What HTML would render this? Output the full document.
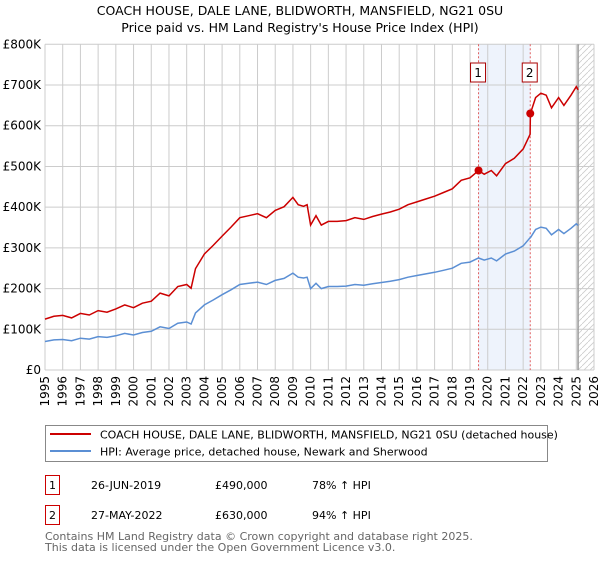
<!DOCTYPE html>
<html><head><meta charset="utf-8"><style>
body{margin:0;background:#fff;font-family:"DejaVu Sans","Liberation Sans",sans-serif;}
</style></head><body>
<svg width="600" height="560" xmlns="http://www.w3.org/2000/svg" font-family="DejaVu Sans, Liberation Sans, sans-serif">
<text x="300" y="15" text-anchor="middle" font-size="12.5">COACH HOUSE, DALE LANE, BLIDWORTH, MANSFIELD, NG21 0SU</text>
<text x="300" y="32" text-anchor="middle" font-size="12.5">Price paid vs. HM Land Registry's House Price Index (HPI)</text>
<g id="plot"></g>
<g>
<rect x="45.5" y="425.5" width="502" height="36" fill="#fff" stroke="#888"/>
<line x1="50" y1="434" x2="91" y2="434" stroke="#cc0000" stroke-width="2"/>
<text x="100" y="438.5" font-size="11">COACH HOUSE, DALE LANE, BLIDWORTH, MANSFIELD, NG21 0SU (detached house)</text>
<line x1="50" y1="451" x2="91" y2="451" stroke="#5b8fd4" stroke-width="2"/>
<text x="100" y="455.5" font-size="11">HPI: Average price, detached house, Newark and Sherwood</text>
</g>
<g font-size="11">
<rect x="45.5" y="475.5" width="14" height="19" fill="#fff" stroke="#cc0000"/>
<text x="52.5" y="489" text-anchor="middle">1</text>
<text x="91" y="489">26-JUN-2019</text><text x="215" y="489">£490,000</text><text x="312" y="489">78% ↑ HPI</text>
<rect x="45.5" y="505.5" width="14" height="19" fill="#fff" stroke="#cc0000"/>
<text x="52.5" y="519" text-anchor="middle">2</text>
<text x="91" y="519">27-MAY-2022</text><text x="215" y="519">£630,000</text><text x="312" y="519">94% ↑ HPI</text>
</g>
<text x="45" y="540" font-size="11" fill="#666">Contains HM Land Registry data © Crown copyright and database right 2025.</text>
<text x="45" y="551" font-size="11" fill="#666">This data is licensed under the Open Government Licence v3.0.</text>
</svg>
<script>
const years=[1995,1995.5,1996,1996.5,1997,1997.5,1998,1998.5,1999,1999.5,2000,2000.5,2001,2001.5,2002,2002.5,2003,2003.25,2003.5,2004,2004.5,2005,2005.5,2006,2006.5,2007,2007.5,2008,2008.5,2009,2009.3,2009.6,2009.8,2010,2010.3,2010.6,2011,2011.5,2012,2012.5,2013,2013.5,2014,2014.5,2015,2015.5,2016,2016.5,2017,2017.5,2018,2018.5,2019,2019.48,2019.8,2020.2,2020.5,2021,2021.5,2022,2022.39,2022.41,2022.7,2023,2023.3,2023.6,2024,2024.3,2024.7,2025,2025.1];
const hpi=[70,74,75,72,78,76,82,80,84,90,86,92,95,106,102,115,118,113,140,160,172,185,197,210,213,216,210,220,225,238,228,226,228,200,213,200,205,205,206,210,208,212,215,218,222,228,232,236,240,245,250,262,265,275,270,275,268,285,292,305,325,325,345,351,348,332,345,335,348,359,355];
const price=[125,132,134,128,139,135,146,142,150,160,153,164,169,189,182,205,210,201,249,285,306,329,351,374,379,384,374,392,401,424,406,402,406,356,379,356,365,365,367,374,370,377,383,388,395,406,413,420,427,436,445,466,472,490,481,490,477,507,520,543,579,630,669,680,675,644,669,650,675,696,688];
const sales=[{label:"1",year:2019.48,value:490},{label:"2",year:2022.4,value:630}];
const yTicks=[0,100,200,300,400,500,600,700,800];
const yTickLabels=["£0","£100K","£200K","£300K","£400K","£500K","£600K","£700K","£800K"];
const xStart=1995,xEnd=2026,dataEnd=2025.1;
const L=45,R=594,T=44.3,B=370;
const xs=y=>L+(y-xStart)/(xEnd-xStart)*(R-L);
const ys=v=>B-v/800*(B-T);
const NS="http://www.w3.org/2000/svg";
const g=document.getElementById('plot');
function mk(t,a,p){const e=document.createElementNS(NS,t);for(const k in a)e.setAttribute(k,a[k]);(p||g).appendChild(e);return e;}
// shaded region
const sh=mk('rect',{x:xs(sales[0].year),y:T,width:xs(sales[1].year)-xs(sales[0].year),height:B-T,fill:'#eef3fc'});


// hatch
const defs=mk('defs',{});
const pat=mk('pattern',{id:'hatch',width:6,height:6,patternUnits:'userSpaceOnUse'},defs);
mk('path',{d:'M0,6 L6,0',stroke:'#ccc','stroke-width':0.8},pat);
const ht=mk('rect',{x:xs(dataEnd),y:T,width:R-xs(dataEnd),height:B-T,fill:'url(#hatch)'});


// grid
for(let yr=xStart;yr<=xEnd;yr++){
 const x=xs(yr);
 const gl=mk('line',{x1:x,y1:T,x2:x,y2:B,stroke:'#ccc','stroke-width':1});
 
 
 const t=mk('text',{x:0,y:0,transform:`translate(${x+4},376) rotate(-90)`,'text-anchor':'end','font-size':12});
 t.textContent=yr;
 
 
}
yTicks.forEach((v,i)=>{
 const y=ys(v);
 const gl=mk('line',{x1:L,y1:y,x2:R,y2:y,stroke:'#ccc','stroke-width':1});
 
 
 const t=mk('text',{x:L-4,y:y+4,'text-anchor':'end','font-size':12});
 t.textContent=yTickLabels[i];
 
 
});
const el=mk('line',{x1:xs(dataEnd),y1:T,x2:xs(dataEnd),y2:B,stroke:'#999','stroke-width':1.5});


// sale lines
sales.forEach(s=>{
 const x=xs(s.year);
 const l=mk('line',{x1:x,y1:T,x2:x,y2:B,stroke:'#e06060','stroke-width':1,'stroke-dasharray':'2,2'});
 
 
 const b=mk('rect',{x:x-8,y:63,width:15,height:19,fill:'#fff',stroke:'#aa0000'});
 
 
 const t=mk('text',{x:x-0.5,y:77,'text-anchor':'middle','font-size':12});
 t.textContent=s.label;
 
 
});
function path(arr){return arr.map((v,i)=>(i?'L':'M')+xs(years[i]).toFixed(1)+','+ys(v).toFixed(1)).join('');}
const hl=mk('path',{d:path(hpi),fill:'none',stroke:'#5b8fd4','stroke-width':1.5});


const pl=mk('path',{d:path(price),fill:'none',stroke:'#cc0000','stroke-width':1.5});


sales.forEach(s=>{
 const c=mk('circle',{cx:xs(s.year),cy:ys(s.value),r:4,fill:'#cc0000'});
 
 
});
</script>
</body></html>
